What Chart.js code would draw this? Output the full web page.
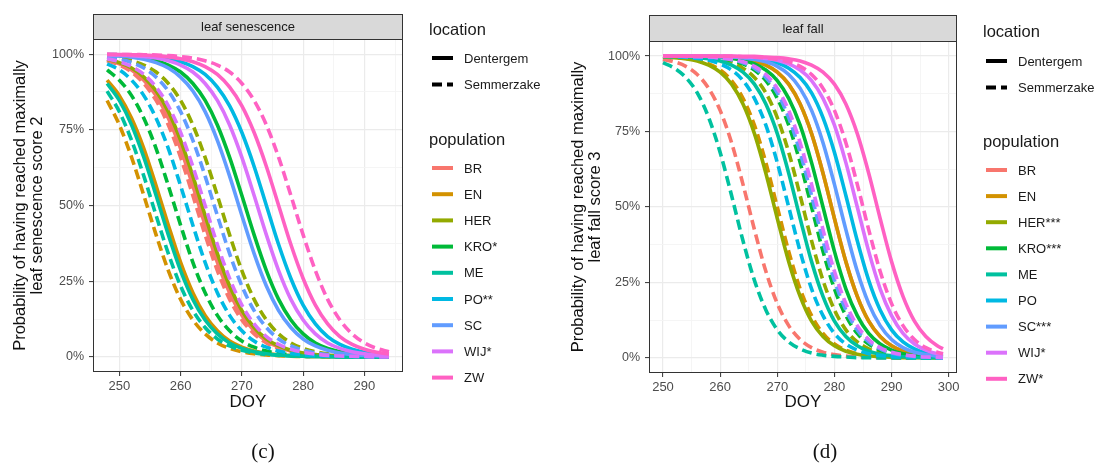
<!DOCTYPE html>
<html>
<head>
<meta charset="utf-8">
<script src="https://cdn.jsdelivr.net/npm/chart.js@4.4.1/dist/chart.umd.min.js"></script>
<style>
html, body { margin: 0; padding: 0; background: #fff; }
#wrap { position: relative; width: 1096px; height: 464px; overflow: hidden; }
.panel { position: absolute; top: 0; width: 548px; height: 464px; }
</style>
</head>
<body>
<div id="wrap">
  <div class="panel" style="left:0"><canvas id="senescence" width="548" height="464"></canvas></div>
  <div class="panel" style="left:548px"><canvas id="fall" width="548" height="464"></canvas></div>
</div>
<script>
// populations en legendas
const populations = ['BR', 'EN', 'HER', 'KRO', 'ME', 'PO', 'SC', 'WIJ', 'ZW'];
const senescenceLabels = ['BR', 'EN', 'HER', 'KRO*', 'ME', 'PO**', 'SC', 'WIJ*', 'ZW'];
const fallLabels = ['BR', 'EN', 'HER***', 'KRO***', 'ME', 'PO', 'SC***', 'WIJ*', 'ZW*'];
const locations = ['Dentergem', 'Semmerzake'];

const doySenescence = [248, 250, 252, 254, 256, 258, 260, 262, 264, 266, 268, 270, 272, 274, 276, 278, 280, 282, 284, 286, 288, 290, 292, 294];
const doyFall = [250, 252, 254, 256, 258, 260, 262, 264, 266, 268, 270, 272, 274, 276, 278, 280, 282, 284, 286, 288, 290, 292, 294, 296, 298, 299];

const xTicksSenescence = [250, 260, 270, 280, 290];
const xTicksFall = [250, 260, 270, 280, 290, 300];
const yTicks = [0, 0.25, 0.5, 0.75, 1];

// leaf senescence, rijen in volgorde van populations
const senescenceDentergem = [
  [.981,.968,.948,.914,.863,.788,.688,.565,.435,.312,.212,.137,.086,.052,.032,.019,.011,.007,.004,.002,.001,.001,0,0],
  [.914,.863,.788,.688,.565,.435,.312,.212,.137,.086,.052,.032,.019,.011,.007,.004,.002,.001,.001,0,0,0,0,0],
  [.983,.972,.954,.924,.878,.810,.715,.597,.467,.341,.234,.153,.097,.059,.036,.022,.013,.008,.005,.003,.002,.001,.001,0],
  [.997,.995,.992,.987,.978,.964,.941,.903,.847,.766,.659,.533,.403,.285,.190,.122,.076,.046,.028,.017,.010,.006,.004,.002],
  [.903,.847,.766,.659,.533,.403,.285,.190,.122,.076,.046,.028,.017,.010,.006,.004,.002,.001,.001,0,0,0,0,0],
  [.999,.998,.997,.995,.991,.985,.975,.959,.933,.891,.829,.741,.629,.500,.371,.259,.171,.109,.067,.041,.025,.015,.009,.005],
  [.996,.994,.990,.983,.972,.954,.924,.878,.810,.715,.597,.467,.341,.234,.153,.097,.059,.036,.022,.013,.008,.005,.003,.002],
  [.998,.997,.995,.992,.987,.978,.964,.941,.903,.847,.766,.659,.533,.403,.285,.190,.122,.076,.046,.028,.017,.010,.006,.004],
  [.999,.999,.998,.997,.995,.991,.985,.975,.959,.933,.891,.829,.741,.629,.500,.371,.259,.171,.109,.067,.041,.025,.015,.009]
];
const senescenceSemmerzake = [
  [.978,.964,.941,.903,.847,.766,.659,.533,.403,.285,.190,.122,.076,.046,.028,.017,.010,.006,.004,.002,.001,.001,0,0],
  [.847,.766,.659,.533,.403,.285,.190,.122,.076,.046,.028,.017,.010,.006,.004,.002,.001,.001,0,0,0,0,0,0],
  [.992,.987,.978,.964,.941,.903,.847,.766,.659,.533,.403,.285,.190,.122,.076,.046,.028,.017,.010,.006,.004,.002,.001,.001],
  [.948,.914,.863,.788,.688,.565,.435,.312,.212,.137,.086,.052,.032,.019,.011,.007,.004,.002,.001,.001,0,0,0,0],
  [.878,.810,.715,.597,.467,.341,.234,.153,.097,.059,.036,.022,.013,.008,.005,.003,.002,.001,.001,0,0,0,0,0],
  [.968,.948,.914,.863,.788,.688,.565,.435,.312,.212,.137,.086,.052,.032,.019,.011,.007,.004,.002,.001,.001,0,0,0],
  [.990,.983,.972,.954,.924,.878,.810,.715,.597,.467,.341,.234,.153,.097,.059,.036,.022,.013,.008,.005,.003,.002,.001,.001],
  [.985,.975,.959,.933,.891,.829,.741,.629,.500,.371,.259,.171,.109,.067,.041,.025,.015,.009,.005,.003,.002,.001,0,0],
  [1,.999,.999,.998,.997,.995,.992,.987,.978,.964,.941,.903,.847,.766,.659,.533,.403,.285,.190,.122,.076,.046,.028,.017]
];

// leaf fall
const fallDentergem = [
  [1,1,1,.999,.999,.997,.995,.991,.984,.970,.947,.907,.841,.743,.612,.462,.319,.204,.122,.071,.040,.022,.012,.007,.004,.003],
  [1,1,1,.999,.999,.997,.995,.991,.984,.970,.947,.907,.841,.743,.612,.462,.319,.204,.122,.071,.040,.022,.012,.007,.004,.003],
  [.997,.995,.991,.984,.970,.947,.907,.841,.743,.612,.462,.319,.204,.122,.071,.040,.022,.012,.007,.004,.002,.001,.001,0,0,0],
  [1,1,.999,.999,.998,.996,.992,.986,.974,.954,.919,.860,.771,.647,.500,.353,.229,.140,.081,.046,.026,.014,.008,.004,.002,.002],
  [.999,.999,.997,.995,.991,.984,.970,.947,.907,.841,.743,.612,.462,.319,.204,.122,.071,.040,.022,.012,.007,.004,.002,.001,.001,0],
  [1,1,1,1,1,.999,.998,.996,.993,.988,.978,.960,.929,.878,.796,.681,.538,.388,.257,.159,.093,.053,.030,.016,.009,.007],
  [1,1,1,1,.999,.998,.997,.994,.989,.981,.966,.939,.893,.820,.713,.575,.425,.287,.180,.107,.061,.034,.019,.011,.006,.004],
  [1,1,1,1,1,.999,.999,.998,.996,.992,.986,.974,.954,.919,.860,.771,.647,.500,.353,.229,.140,.081,.046,.026,.014,.011],
  [1,1,1,1,1,1,1,.999,.999,.997,.995,.991,.984,.970,.947,.907,.841,.743,.612,.462,.319,.204,.122,.071,.040,.030]
];
const fallSemmerzake = [
  [.989,.981,.966,.939,.893,.820,.713,.575,.425,.287,.180,.107,.061,.034,.019,.011,.006,.003,.002,.001,0,0,0,0,0,0],
  [.998,.996,.992,.986,.974,.954,.919,.860,.771,.647,.500,.353,.229,.140,.081,.046,.026,.014,.008,.004,.002,.001,.001,0,0,0],
  [1,.999,.998,.996,.993,.988,.978,.960,.929,.878,.796,.681,.538,.388,.257,.159,.093,.053,.030,.016,.009,.005,.003,.001,.001,.001],
  [1,.999,.999,.998,.996,.992,.986,.974,.954,.919,.860,.771,.647,.500,.353,.229,.140,.081,.046,.026,.014,.008,.004,.002,.001,.001],
  [.978,.960,.929,.878,.796,.681,.538,.388,.257,.159,.093,.053,.030,.016,.009,.005,.003,.001,.001,0,0,0,0,0,0,0],
  [.999,.998,.996,.992,.986,.974,.954,.919,.860,.771,.647,.500,.353,.229,.140,.081,.046,.026,.014,.008,.004,.002,.001,.001,0,0],
  [1,1,.999,.998,.996,.993,.988,.978,.960,.929,.878,.796,.681,.538,.388,.257,.159,.093,.053,.030,.016,.009,.005,.003,.001,.001],
  [1,1,.999,.998,.997,.994,.989,.981,.966,.939,.893,.820,.713,.575,.425,.287,.180,.107,.061,.034,.019,.011,.006,.003,.002,.001],
  [1,1,1,1,1,1,.999,.998,.997,.994,.989,.981,.966,.939,.893,.820,.713,.575,.425,.287,.180,.107,.061,.034,.019,.014]
];

// ggplot standaard kleuren
const palette = ['#F8766D', '#D39200', '#93AA00', '#00BA38', '#00C19F', '#00B9E3', '#619CFF', '#DB72FB', '#FF61C3'];
const SANS = '"Liberation Sans", Arial, Helvetica, sans-serif';
const DASH = [10, 5];
const LINE_W = 3.6;

// grote + kleine rasterlijnen
function withMinor(majors, min, max) {
  const step = majors[1] - majors[0];
  const out = [];
  majors.forEach(v => { out.push(v); out.push(v + step / 2); });
  out.push(majors[0] - step / 2);
  return out.filter(v => v >= min && v <= max).sort((a, b) => a - b);
}

function buildDatasets(doy, dentergem, semmerzake) {
  const sets = [];
  populations.forEach((p, i) => {
    [dentergem, semmerzake].forEach((rows, j) => {
      sets.push({
        label: p + ' ' + locations[j],
        data: rows[i].map((v, k) => ({ x: doy[k], y: v })),
        borderColor: palette[i],
        borderWidth: LINE_W,
        borderDash: j ? DASH : [],
        pointRadius: 0,
        cubicInterpolationMode: 'monotone',
        fill: false
      });
    });
  });
  return sets.reverse(); // eerste dataset wordt bovenaan getekend
}

const panelDecor = {
  id: 'panelDecor',
  afterDraw(chart, args, o) {
    const { ctx, chartArea: a } = chart;
    ctx.save();
    // paneelrand
    ctx.strokeStyle = '#333333';
    ctx.lineWidth = 1;
    ctx.strokeRect(a.left + 0.5, a.top + 0.5, a.width - 1, a.height - 1);
    // strip
    ctx.fillStyle = '#D9D9D9';
    ctx.fillRect(a.left, o.stripTop, a.width, a.top - o.stripTop);
    ctx.strokeRect(a.left + 0.5, o.stripTop + 0.5, a.width - 1, a.top - o.stripTop);
    ctx.fillStyle = '#1A1A1A';
    ctx.font = '13px ' + SANS;
    ctx.textAlign = 'center';
    ctx.textBaseline = 'middle';
    ctx.fillText(o.strip, (a.left + a.right) / 2, (o.stripTop + a.top) / 2 + 1);

    // legendes
    ctx.textAlign = 'left';
    ctx.font = '16.5px ' + SANS;
    ctx.fillText('location', o.legendX, o.locTitleY);
    ctx.fillText('population', o.legendX, o.popTitleY);
    ctx.font = '13px ' + SANS;
    ctx.lineWidth = 4;
    ctx.lineCap = 'butt';
    locations.forEach((loc, j) => {
      const y = o.locY + j * o.locStep;
      ctx.strokeStyle = '#000';
      ctx.setLineDash(j ? DASH : []);
      ctx.beginPath();
      ctx.moveTo(o.keyX, y);
      ctx.lineTo(o.keyX + 21, y);
      ctx.stroke();
      ctx.fillText(loc, o.textX, y + 1);
    });
    ctx.setLineDash([]);
    o.labels.forEach((lab, i) => {
      const y = o.popY + i * o.popStep;
      ctx.strokeStyle = palette[i];
      ctx.beginPath();
      ctx.moveTo(o.keyX, y);
      ctx.lineTo(o.keyX + 21, y);
      ctx.stroke();
      ctx.fillText(lab, o.textX, y + 1);
    });

    // paneelletter
    ctx.font = '21px "Liberation Serif", "Times New Roman", serif';
    ctx.textAlign = 'center';
    ctx.fillStyle = '#111';
    ctx.fillText(o.tag, o.tagX, o.tagY);
    ctx.restore();
  }
};

function makeChart(id, cfg) {
  const first = cfg.doy[0], last = cfg.doy[cfg.doy.length - 1];
  const xMin = first - 0.05 * (last - first);
  const xMax = last + 0.05 * (last - first);
  const xAll = withMinor(cfg.xTicks, xMin, xMax);
  const yAll = withMinor(yTicks, -0.05, 1.05);
  const isMajorX = v => cfg.xTicks.includes(v);
  const isMajorY = v => yTicks.includes(v);

  return new Chart(document.getElementById(id), {
    type: 'line',
    data: { datasets: buildDatasets(cfg.doy, cfg.dentergem, cfg.semmerzake) },
    options: {
      responsive: false,
      animation: false,
      events: [],
      layout: { padding: { left: 0, top: cfg.plotTop, right: cfg.padRight, bottom: 51 } },
      plugins: {
        legend: { display: false },
        tooltip: { enabled: false },
        panelDecor: cfg.decor
      },
      scales: {
        x: {
          type: 'linear',
          min: xMin,
          max: xMax,
          afterBuildTicks: s => { s.ticks = xAll.map(v => ({ value: v })); },
          afterFit: s => { s.height = cfg.xAxisHeight; },
          border: { display: false },
          grid: {
            color: c => isMajorX(c.tick.value) ? '#EBEBEB' : '#F4F4F4',
            lineWidth: c => isMajorX(c.tick.value) ? 1.2 : 0.9,
            tickColor: c => isMajorX(c.tick.value) ? '#333333' : 'rgba(0,0,0,0)',
            tickLength: 4,
            tickWidth: 1
          },
          ticks: {
            autoSkip: false,
            maxRotation: 0,
            padding: 3,
            color: '#4D4D4D',
            font: { family: SANS, size: 13 },
            callback: v => isMajorX(v) ? String(v) : ''
          },
          title: {
            display: true,
            text: 'DOY',
            color: '#111',
            font: { family: SANS, size: 17 },
            padding: 0
          }
        },
        y: {
          type: 'linear',
          min: -0.05,
          max: 1.05,
          afterBuildTicks: s => { s.ticks = yAll.map(v => ({ value: v })); },
          afterFit: s => { s.width = cfg.yAxisWidth; },
          border: { display: false },
          grid: {
            color: c => isMajorY(c.tick.value) ? '#EBEBEB' : '#F4F4F4',
            lineWidth: c => isMajorY(c.tick.value) ? 1.2 : 0.9,
            tickColor: c => isMajorY(c.tick.value) ? '#333333' : 'rgba(0,0,0,0)',
            tickLength: 4,
            tickWidth: 1
          },
          ticks: {
            autoSkip: false,
            padding: 5,
            color: '#4D4D4D',
            font: { family: SANS, size: 12.5 },
            callback: v => isMajorY(v) ? Math.round(v * 100) + '%' : ''
          },
          title: {
            display: true,
            text: cfg.yTitle,
            color: '#111',
            font: { family: SANS, size: 16.5, lineHeight: '16.5px' },
            padding: { top: cfg.yTitlePad, bottom: 0 }
          }
        }
      }
    },
    plugins: [panelDecor]
  });
}

makeChart('senescence', {
  doy: doySenescence,
  dentergem: senescenceDentergem,
  semmerzake: senescenceSemmerzake,
  xTicks: xTicksSenescence,
  plotTop: 39, padRight: 145, xAxisHeight: 41, yAxisWidth: 93, yTitlePad: 12.5,
  yTitle: ['Probability of having reached maximally', 'leaf senescence score 2'],
  decor: {
    strip: 'leaf senescence', stripTop: 14, labels: senescenceLabels,
    legendX: 429, keyX: 432, textX: 464,
    locTitleY: 30, locY: 58, locStep: 26.5,
    popTitleY: 140, popY: 168, popStep: 26.2,
    tag: '(c)', tagX: 263, tagY: 452
  }
});

makeChart('fall', {
  doy: doyFall,
  dentergem: fallDentergem,
  semmerzake: fallSemmerzake,
  xTicks: xTicksFall,
  plotTop: 41, padRight: 139, xAxisHeight: 40, yAxisWidth: 101, yTitlePad: 22.5,
  yTitle: ['Probability of having reached maximally', 'leaf fall score 3'],
  decor: {
    strip: 'leaf fall', stripTop: 15, labels: fallLabels,
    legendX: 435, keyX: 438, textX: 470,
    locTitleY: 32, locY: 61, locStep: 26.5,
    popTitleY: 142, popY: 170, popStep: 26.1,
    tag: '(d)', tagX: 277, tagY: 452
  }
});
</script>
</body>
</html>
